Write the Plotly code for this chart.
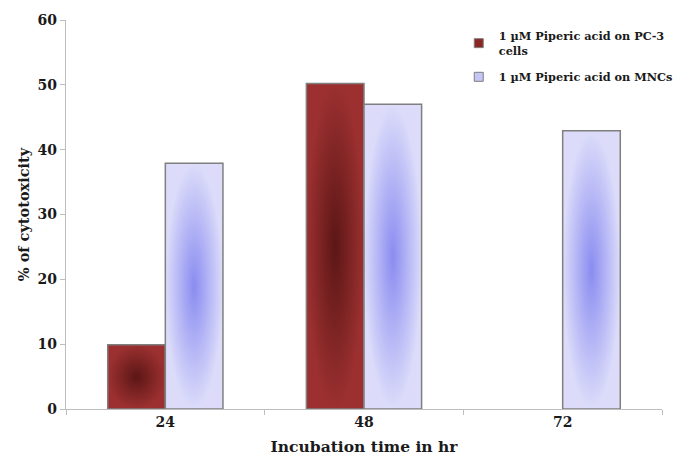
import plotly.graph_objects as go

# Incubation times (hr) and % cytotoxicity for 1 µM piperic acid
categories = ["24", "48", "72"]
pc3_values = [9.9, 50.2, None]
mnc_values = [37.9, 47.0, 42.9]

series = [
    {
        "name": "1 µM Piperic acid on PC-3<br>cells",
        "values": pc3_values,
        "offset": -0.29,
        "center": "#5c1616",
        "edge": "#9c3030",
        "legend": "#8b2626",
    },
    {
        "name": "1 µM Piperic acid on MNCs",
        "values": mnc_values,
        "offset": 0.0,
        "center": "#8a8cf0",
        "edge": "#dcdcfa",
        "legend": "#c4c6f6",
    },
]
bar_width = 0.29
font_family = "DejaVu Serif"

fig = go.Figure()

for s in series:
    # Each bar is its own filled polygon so the radial gradient fits that bar
    for i, v in enumerate(s["values"]):
        if v is None:
            continue
        left = i + s["offset"]
        right = left + bar_width
        fig.add_trace(go.Scatter(
            x=[left, left, right, right, left],
            y=[0, v, v, 0, 0],
            mode="lines",
            fill="toself",
            fillgradient=dict(
                type="radial",
                colorscale=[[0, s["center"]], [1, s["edge"]]],
            ),
            line=dict(color="#7f7f7f", width=1.5),
            showlegend=False,
            hoverinfo="skip",
        ))
    # Legend entry: small square swatch
    fig.add_trace(go.Scatter(
        x=[None], y=[None],
        mode="markers",
        name=s["name"],
        marker=dict(symbol="square", size=9, color=s["legend"],
                    line=dict(color="#7f7f7f", width=1)),
        legendgroup=s["name"],
    ))

fig.update_layout(
    width=673,
    height=459,
    margin=dict(l=66, r=11, t=20, b=50, autoexpand=False),
    paper_bgcolor="white",
    plot_bgcolor="white",
    font=dict(family=font_family, color="#1a1a1a"),
    showlegend=True,
    legend=dict(
        x=0.659, y=0.995, xanchor="left", yanchor="top",
        font=dict(family=font_family, size=11.3, color="#1a1a1a", weight="bold"),
        traceorder="grouped",
        tracegroupgap=8,
        bgcolor="rgba(0,0,0,0)",
        itemwidth=30,
    ),
)

fig.update_xaxes(
    range=[-0.5, 2.5],
    tickmode="array",
    tickvals=[0, 1, 2],
    ticktext=categories,
    ticks="",
    tickfont=dict(size=14, weight="bold", color="#1a1a1a"),
    showgrid=False,
    zeroline=False,
    showline=True,
    linecolor="#bdbdbd",
    linewidth=1.2,
    minor=dict(
        tickmode="array",
        tickvals=[-0.5, 0.5, 1.5, 2.5],
        ticks="outside",
        ticklen=5,
        tickcolor="#bdbdbd",
        tickwidth=1,
        showgrid=False,
    ),
    title=dict(
        text="Incubation time in hr",
        font=dict(size=15.5, weight="bold", color="#1a1a1a"),
        standoff=12,
    ),
)

fig.update_yaxes(
    range=[0, 60],
    tickmode="linear",
    tick0=0,
    dtick=10,
    ticks="outside",
    ticklen=5,
    tickcolor="#bdbdbd",
    tickfont=dict(size=14, weight="bold", color="#1a1a1a"),
    showgrid=False,
    zeroline=False,
    showline=True,
    linecolor="#bdbdbd",
    linewidth=1.2,
    title=dict(
        text="% of cytotoxicity",
        font=dict(size=14.5, weight="bold", color="#1a1a1a"),
        standoff=4,
    ),
)

fig.write_html("out.html")
